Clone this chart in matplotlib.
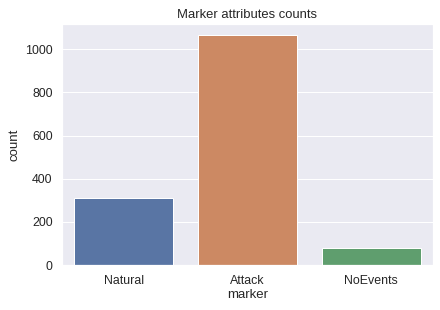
import numpy as np
import pandas as pd
import matplotlib
matplotlib.use("Agg")
import matplotlib.pyplot as plt
import seaborn as sns

# comptes par type de marqueur
markers = ["Natural", "Attack", "NoEvents"]
counts = [312, 1065, 80]

sns.set_theme(style="darkgrid")
plt.rcParams['font.family'] = ['Liberation Sans', 'DejaVu Sans']
plt.rcParams['xtick.labelsize'] = 12.4
plt.rcParams['ytick.labelsize'] = 12.4
plt.rcParams['axes.labelsize'] = 13.3
plt.rcParams['axes.titlesize'] = 13

fig, ax = plt.subplots(figsize=(440/72, 310/72), dpi=72)
df = pd.DataFrame({"marker": markers, "count": counts})
sns.barplot(data=df, x="marker", y="count", hue="marker", palette="deep", ax=ax)
ax.set_title("Marker attributes counts")
ax.set_xlabel("marker", labelpad=2)
ax.set_ylabel("count")
ax.set_ylim(0, 1118)

plt.subplots_adjust(left=0.141, right=0.984, top=0.923, bottom=0.145)
plt.savefig("out.png", dpi=72)
